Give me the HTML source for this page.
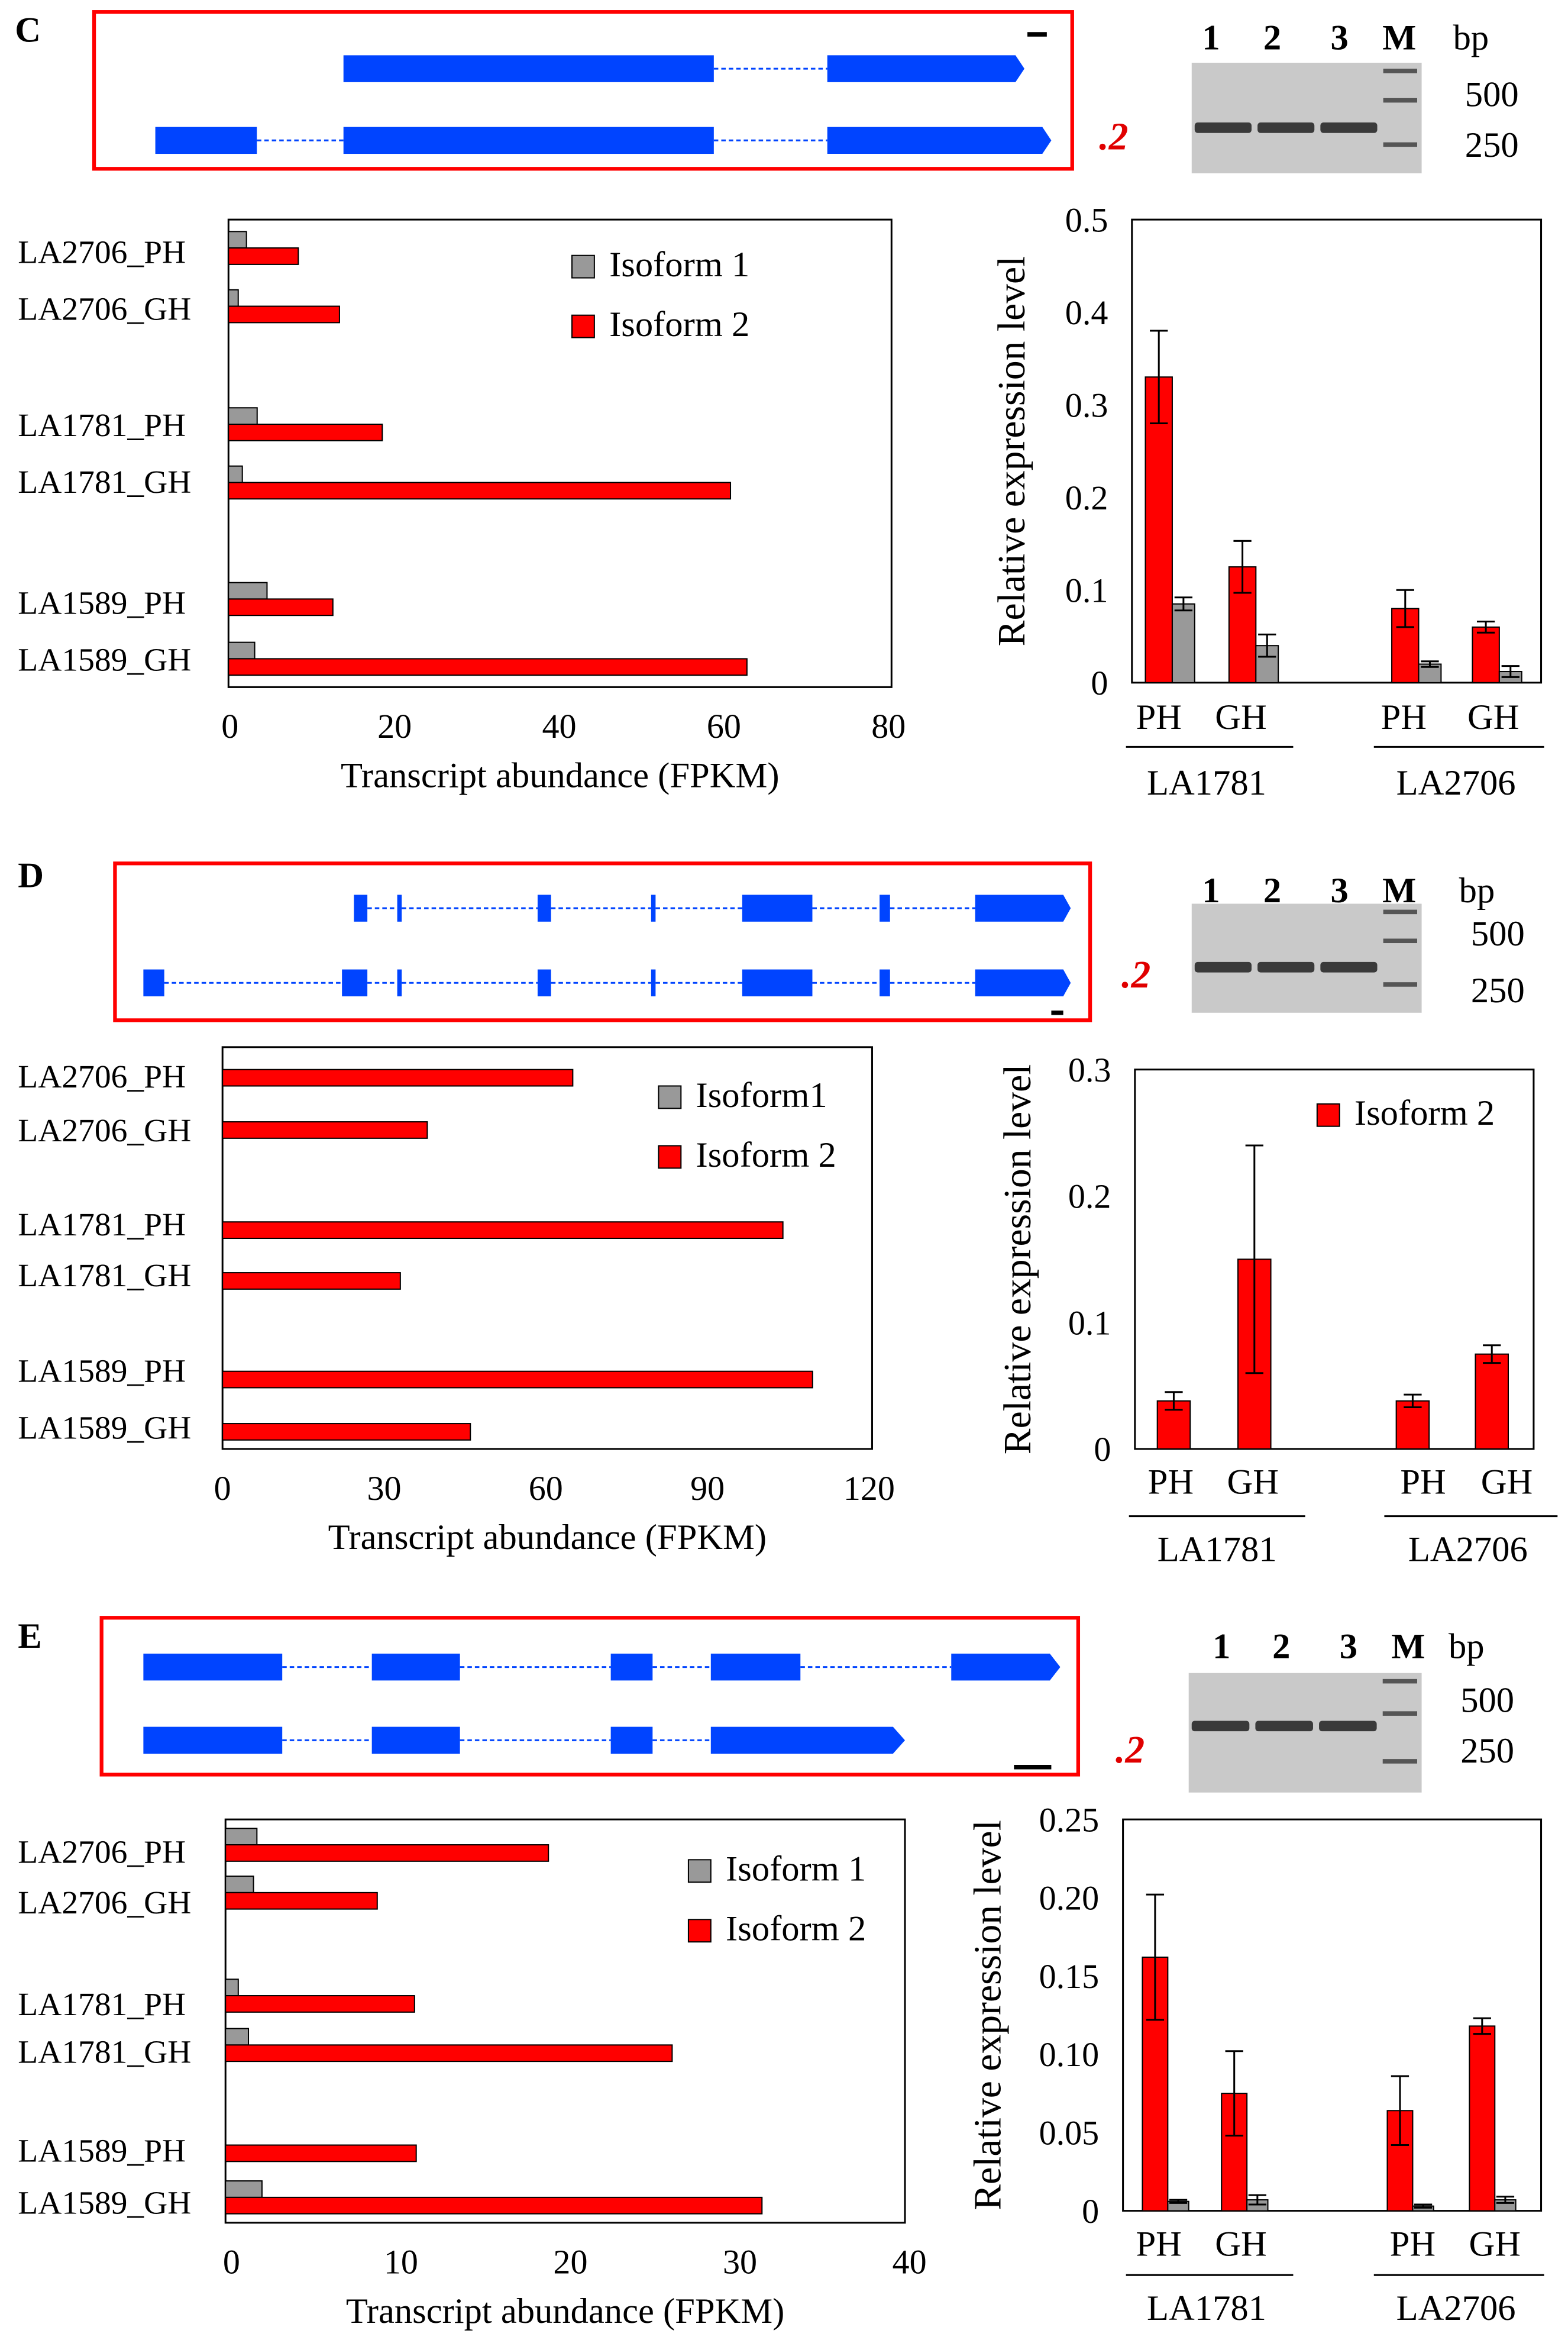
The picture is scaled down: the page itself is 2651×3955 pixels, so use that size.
<!DOCTYPE html>
<html><head><meta charset="utf-8"><style>
html,body{margin:0;padding:0;background:#fff}
svg{display:block}
text{font-family:"Liberation Serif",serif;fill:#000}
</style></head><body>
<svg id="fig" width="2651" height="3955" viewBox="0 0 1050 1566.5" xmlns="http://www.w3.org/2000/svg"></svg>
<script>
// ---------- data ----------
const barCats = ["LA2706_PH","LA2706_GH","LA1781_PH","LA1781_GH","LA1589_PH","LA1589_GH"];
const cIso1 = [2,1,3.3,1.5,4.5,3];
const cIso2 = [8.3,13.3,18.5,60.8,12.5,62.8];
const cTicks = [0,20,40,60,80];
const dIso2 = [65,38,104,33,109.5,46];
const dTicks = [0,30,60,90,120];
const eIso1 = [1.5,1.3,0.4,1,0,1.8];
const eIso2 = [18.7,8.6,10.8,26,10.9,31.3];
const eTicks = [0,10,20,30,40];
const qCats = ["PH","GH","PH","GH"];
const qGroups = ["LA1781","LA2706"];
const cQIso2 = [0.33,0.125,0.08,0.06];
const cQIso2Err = [0.05,0.028,0.02,0.006];
const cQIso1 = [0.085,0.04,0.02,0.012];
const cQIso1Err = [0.007,0.012,0.003,0.006];
const cQTicks = ["0","0.1","0.2","0.3","0.4","0.5"];
const dQIso2 = [0.038,0.15,0.038,0.075];
const dQIso2Err = [0.007,0.09,0.005,0.007];
const dQTicks = ["0","0.1","0.2","0.3"];
const eQIso2 = [0.162,0.075,0.064,0.118];
const eQIso2Err = [0.04,0.027,0.022,0.005];
const eQIso1 = [0.006,0.007,0.003,0.007];
const eQIso1Err = [0.001,0.003,0.001,0.002];
const eQTicks = ["0","0.05","0.10","0.15","0.20","0.25"];

const NS="http://www.w3.org/2000/svg";
const svg=document.getElementById('fig');
const RED="#ff0000", GRAY="#999999", BLUE="#0044ff";
function mk(tag,attrs,parent){const e=document.createElementNS(NS,tag);for(const k in attrs)e.setAttribute(k,attrs[k]);(parent||svg).appendChild(e);return e;}
function txt(s,x,y,size,anchor,parent,extra){const t=mk('text',Object.assign({x:x,y:y,'font-size':size,'text-anchor':anchor||'start'},extra||{}),parent);t.textContent=s;return t;}

// ---------- gene models ----------
function gene(g,y,exons,arrowEnd){
  for(let i=0;i<exons.length-1;i++){
    const a=exons[i][1],b=exons[i+1][0];
    const l=mk('line',{x1:a,y1:y,x2:b,y2:y,stroke:BLUE,'stroke-width':1.2,'stroke-dasharray':'3,2'},g);
    
  }
  exons.forEach((ex,i)=>{
    let r;
    if(i===exons.length-1){
      r=mk('polygon',{points:`${ex[0]},${y-9} ${ex[1]},${y-9} ${arrowEnd},${y} ${ex[1]},${y+9} ${ex[0]},${y+9}`,fill:BLUE},g);
    } else r=mk('rect',{x:ex[0],y:y-9,width:ex[1]-ex[0],height:18,fill:BLUE},g);
    
  });
}
function geneBox(name,x,y,w,h){const g=mk('g',{});
  mk('rect',{x:x,y:y,width:w,height:h,fill:'none',stroke:RED,'stroke-width':2.5},g);return g;}

// ---------- gel ----------
function gel(name,x,y,w,h,lx,ly,bpx,bpy,by){
  const g=mk('g',{});
  mk('rect',{x:x,y:y,width:w,height:h,fill:'#c9c9c9'},g);
  const lw=(w*0.82)/3;
  for(let i=0;i<3;i++){const b=mk('rect',{x:x+i*lw+2,y:by-4,width:lw-4,height:7,fill:'#3a3a3a',rx:2},g);}
  const mx=x+w*0.82+2, mw=w*0.18-5;
  [y+4,y+h*0.32,y+h*0.72].forEach(yy=>{mk('rect',{x:mx,y:yy,width:mw,height:3,fill:'#555'},g);});
  ['1','2','3','M'].forEach((s,i)=>txt(s,lx[i],ly,24,'middle',g,{'font-weight':'bold'}));
  txt('bp',bpx,ly,24,'start',g);
  txt('500',bpx+8,bpy[0],24,'start',g);
  txt('250',bpx+8,bpy[1],24,'start',g);
}

// ---------- horizontal FPKM chart ----------
function hbar(name,box,x0,x1,max,ticks,iso1,iso2,rowY,labelY,legend,legend1){
  const g=mk('g',{});
  const sx=v=>x0+(v/max)*(x1-x0);
  mk('rect',{x:box[0],y:box[1],width:box[2]-box[0],height:box[3]-box[1],fill:'none',stroke:'#000','stroke-width':1.2},g);
  barCats.forEach((c,i)=>{
    const t=txt(c,12,labelY[i]+7,22,'start',g);
    if(iso1&&iso1[i]>0){const r=mk('rect',{x:box[0],y:rowY[i]-11,width:sx(iso1[i])-box[0],height:11,fill:GRAY,stroke:'#000','stroke-width':0.8},g);}
    const r=mk('rect',{x:box[0],y:rowY[i],width:sx(iso2[i])-box[0],height:11,fill:RED,stroke:'#000','stroke-width':0.8},g);
  });
  ticks.forEach(v=>{const t=txt(String(v),sx(v),box[3]+34,23,'middle',g);});
  const xl=txt('Transcript abundance (FPKM)',(box[0]+box[2])/2,box[3]+67,24,'middle',g);
  const lg=mk('g',{},g);
  mk('rect',{x:legend[0],y:legend[1],width:15,height:15,fill:GRAY,stroke:'#000','stroke-width':0.8},lg);
  txt(legend1,legend[0]+25,legend[1]+14,24,'start',lg);
  mk('rect',{x:legend[0],y:legend[1]+40,width:15,height:15,fill:RED,stroke:'#000','stroke-width':0.8},lg);
  txt('Isoform 2',legend[0]+25,legend[1]+54,24,'start',lg);
}

// ---------- qPCR chart ----------
function qbar(name,box,max,ticks,iso2,err2,iso1,err1,redX,bw,labX,labY,lines,grpX,grpY,ylabX,legendR){
  const g=mk('g',{});
  const sy=v=>box[3]-(v/max)*(box[3]-box[1]);
  mk('rect',{x:box[0],y:box[1],width:box[2]-box[0],height:box[3]-box[1],fill:'none',stroke:'#000','stroke-width':1.2},g);
  ticks.forEach(s=>{const t=txt(s,box[0]-16,sy(parseFloat(s))+8,23,'end',g);});
  function err(cx,v,e){const a=sy(v+e),b=sy(Math.max(0,v-e));
    mk('line',{x1:cx,y1:a,x2:cx,y2:b,stroke:'#000','stroke-width':1.2},g);
    mk('line',{x1:cx-6,y1:a,x2:cx+6,y2:a,stroke:'#000','stroke-width':1.2},g);
    mk('line',{x1:cx-6,y1:b,x2:cx+6,y2:b,stroke:'#000','stroke-width':1.2},g);}
  qCats.forEach((c,i)=>{
    const r=mk('rect',{x:redX[i],y:sy(iso2[i]),width:bw,height:sy(0)-sy(iso2[i]),fill:RED,stroke:'#000','stroke-width':0.8},g);
    
    err(redX[i]+bw/2,iso2[i],err2[i]);
    if(iso1){const r1=mk('rect',{x:redX[i]+bw,y:sy(iso1[i]),width:bw-3,height:sy(0)-sy(iso1[i]),fill:GRAY,stroke:'#000','stroke-width':0.8},g);
      
      err(redX[i]+bw+(bw-3)/2,iso1[i],err1[i]);}
    const t=txt(c,labX[i],labY,24,'middle',g);
  });
  lines.forEach(l=>mk('line',{x1:l[0],y1:l[2],x2:l[1],y2:l[2],stroke:'#000','stroke-width':1.2},g));
  qGroups.forEach((s,i)=>{const t=txt(s,grpX[i],grpY,24,'middle',g);});
  const cy=(box[1]+box[3])/2;
  const yl=txt('Relative expression level',ylabX,cy,26,'middle',g,{transform:`rotate(-90 ${ylabX} ${cy})`});
  
  if(legendR){const lg=mk('g',{},g);
    mk('rect',{x:legendR[0],y:legendR[1],width:15,height:15,fill:RED,stroke:'#000','stroke-width':0.8},lg);
    txt('Isoform 2',legendR[0]+25,legendR[1]+14,24,'start',lg);}
}
function dotTwo(x,y){const t=txt('.2',x,y,26,'start',null,{'font-weight':'bold','font-style':'italic',style:'fill:#e00000'});}
function panel(s,x,y){const t=txt(s,x,y,24,'start',null,{'font-weight':'bold'});}

// ===== Panel C =====
panel('C',10,28);
let gb=geneBox('gene-model-c',63,8,655,105);
mk('line',{x1:688,y1:23,x2:701,y2:23,stroke:'#000','stroke-width':3},gb);
gene(gb,46,[[230,478],[554,680]],686);
gene(gb,94,[[104,172],[230,478],[554,698]],704);
dotTwo(736,100);
gel('gel-c',798,42,154,74,[811,852,897,937],33,973,[71,105],86);
hbar('fpkm-chart-c',[153,147,597,460],154,595,80,cTicks,cIso1,cIso2,[166,205,284,323,401,441],[169,207,285,323,404,442],[383,171],'Isoform 1');
qbar('qpcr-chart-c',[758,147,1032,457],0.5,cQTicks,cQIso2,cQIso2Err,cQIso1,cQIso1Err,[767,823,932,986],18,[776,831,940,1000],488,[[754,866,500],[920,1034,500]],[808,975],532,686,null);

// ===== Panel D =====
panel('D',12,594);
gb=geneBox('gene-model-d',77,578,653,105);
mk('line',{x1:704,y1:678,x2:712,y2:678,stroke:'#000','stroke-width':3},gb);
gene(gb,608,[[237,246],[266,269],[360,369],[436,439],[497,544],[589,596],[653,712]],717);
gene(gb,658,[[96,110],[229,246],[266,269],[360,369],[436,439],[497,544],[589,596],[653,712]],717);
dotTwo(751,661);
gel('gel-d',798,605,154,73,[811,852,897,937],604,977,[633,671],648);
hbar('fpkm-chart-d',[149,701,584,970],149,582,120,dTicks,null,dIso2,[716,751,818,852,918,953],[721,757,820,854,918,956],[441,727],'Isoform1');
qbar('qpcr-chart-d',[760,716,1027,970],0.3,dQTicks,dQIso2,dQIso2Err,null,null,[775,829,935,988],22,[784,839,953,1009],1000,[[756,874,1015],[927,1043,1015]],[815,983],1045,690,[882,739]);

// ===== Panel E =====
panel('E',12,1103);
gb=geneBox('gene-model-e',68,1083,654,105);
mk('line',{x1:679,y1:1183,x2:704,y2:1183,stroke:'#000','stroke-width':3},gb);
gene(gb,1116,[[96,189],[249,308],[409,437],[476,536],[637,703]],710);
gene(gb,1165,[[96,189],[249,308],[409,437],[476,598]],606);
dotTwo(747,1180);
gel('gel-e',796,1120,156,80,[818,858,903,943],1110,970,[1146,1180],1156);
hbar('fpkm-chart-e',[151,1218,606,1488],155,609,40,eTicks,eIso1,eIso2,[1235,1267,1336,1369,1436,1471],[1240,1274,1342,1374,1440,1475],[461,1245],'Isoform 1');
qbar('qpcr-chart-e',[752,1218,1032,1480],0.25,eQTicks,eQIso2,eQIso2Err,eQIso1,eQIso1Err,[765,818,929,984],17,[776,831,946,1001],1510,[[754,866,1523],[920,1034,1523]],[808,975],1553,670,null);
</script>
</body></html>
